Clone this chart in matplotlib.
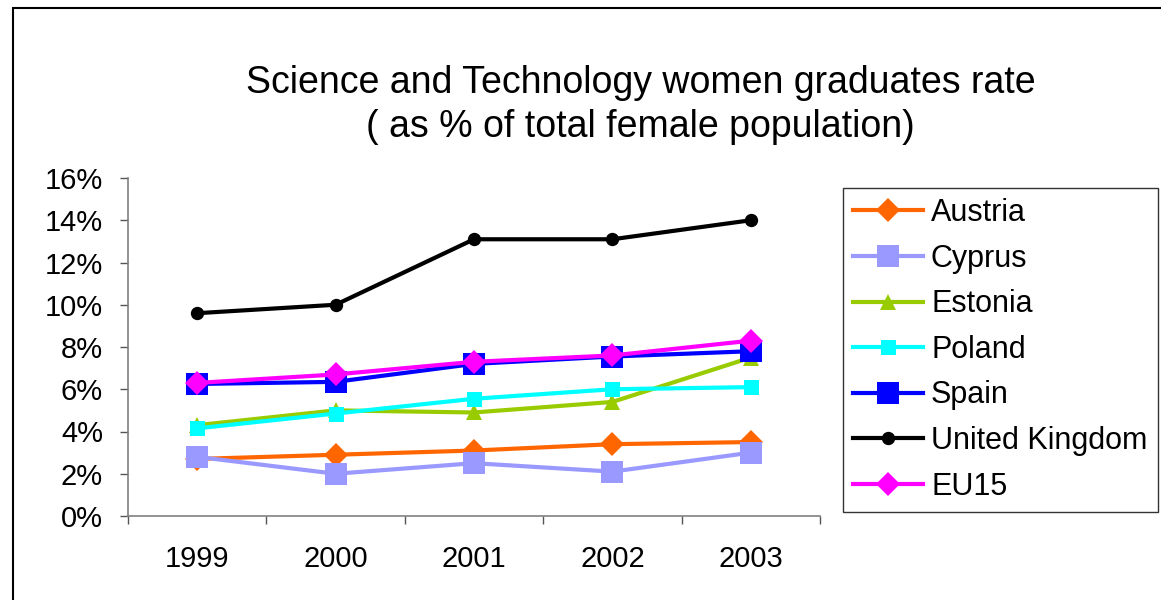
import matplotlib
matplotlib.use("Agg")
import matplotlib.pyplot as plt
from matplotlib.patches import Rectangle
from matplotlib.ticker import FixedLocator, FuncFormatter

plt.rcParams['font.family'] = ['Liberation Sans', 'DejaVu Sans']

years = ['1999', '2000', '2001', '2002', '2003']
austria = [2.7, 2.9, 3.1, 3.4, 3.5]
cyprus = [2.8, 2.0, 2.5, 2.1, 3.0]
estonia = [4.3, 5.0, 4.9, 5.4, 7.5]
poland = [4.15, 4.85, 5.55, 6.0, 6.1]
spain = [6.25, 6.35, 7.2, 7.55, 7.8]
uk = [9.6, 10.0, 13.1, 13.1, 14.0]
eu15 = [6.3, 6.7, 7.3, 7.6, 8.3]

series = [
    ('Austria', austria, '#FF6600', 'D', 12.3),
    ('Cyprus', cyprus, '#9999FF', 's', 16.0),
    ('Estonia', estonia, '#99CC00', '^', 11.0),
    ('Poland', poland, '#00FFFF', 's', 10.8),
    ('Spain', spain, '#0000FF', 's', 15.8),
    ('United Kingdom', uk, '#000000', 'o', 9.6),
    ('EU15', eu15, '#FF00FF', 'D', 12.3),
]

fig = plt.figure(figsize=(11.61, 6.0), dpi=100)
ax = fig.add_axes([128 / 1161, 1 - 516 / 600, 692 / 1161, 338 / 600])

x = list(range(len(years)))
for name, vals, col, mk, ms in series:
    ax.plot(x, vals, color=col, lw=3, marker=mk, markersize=ms,
            markeredgewidth=0, label=name, solid_joinstyle='miter')

ax.set_xlim(-0.5, len(years) - 0.5)
ax.set_ylim(0, 16)
ax.yaxis.set_major_locator(FixedLocator(range(0, 17, 2)))
ax.yaxis.set_major_formatter(FuncFormatter(lambda v, p: '%d%%' % v))

# category boundaries as ticks, labels centred in between
ax.set_xticks([i - 0.5 for i in range(len(years) + 1)])
ax.set_xticklabels([])
ax.set_xticks(x, minor=True)
ax.set_xticklabels(years, minor=True)
ax.tick_params(axis='x', which='minor', length=0, pad=21, labelsize=21)
ax.tick_params(axis='x', which='major', length=6, width=1, color='#555555', direction='out')
ax.tick_params(axis='y', length=6, width=1, color='#555555', direction='out', pad=12, labelsize=21)

for s in ['top', 'right']:
    ax.spines[s].set_visible(False)
for s in ['left', 'bottom']:
    ax.spines[s].set_color('#808080')
    ax.spines[s].set_linewidth(1.2)

fig.text(0.552, 1 - 105 / 600,
         'Science and Technology women graduates rate\n( as % of total female population)',
         ha='center', va='center', fontsize=27, linespacing=1.32)

leg = fig.legend(loc='upper left', bbox_to_anchor=(843 / 1161, 1 - 188 / 600, 315 / 1161, 0.0),
                 mode='expand', fontsize=22, frameon=True, fancybox=False,
                 edgecolor='black', handlelength=2.3, handletextpad=0.25,
                 labelspacing=0.51, borderpad=0.33, borderaxespad=0)
leg.get_frame().set_linewidth(1.0)

# outer chart-area border (only left and top visible)
fig.patches.append(Rectangle((13 / 1161, -0.1), 1.2, 1 - 8 / 600 + 0.1,
                             transform=fig.transFigure, fill=False,
                             edgecolor='black', linewidth=1.5))

fig.savefig('out.png', dpi=100)
